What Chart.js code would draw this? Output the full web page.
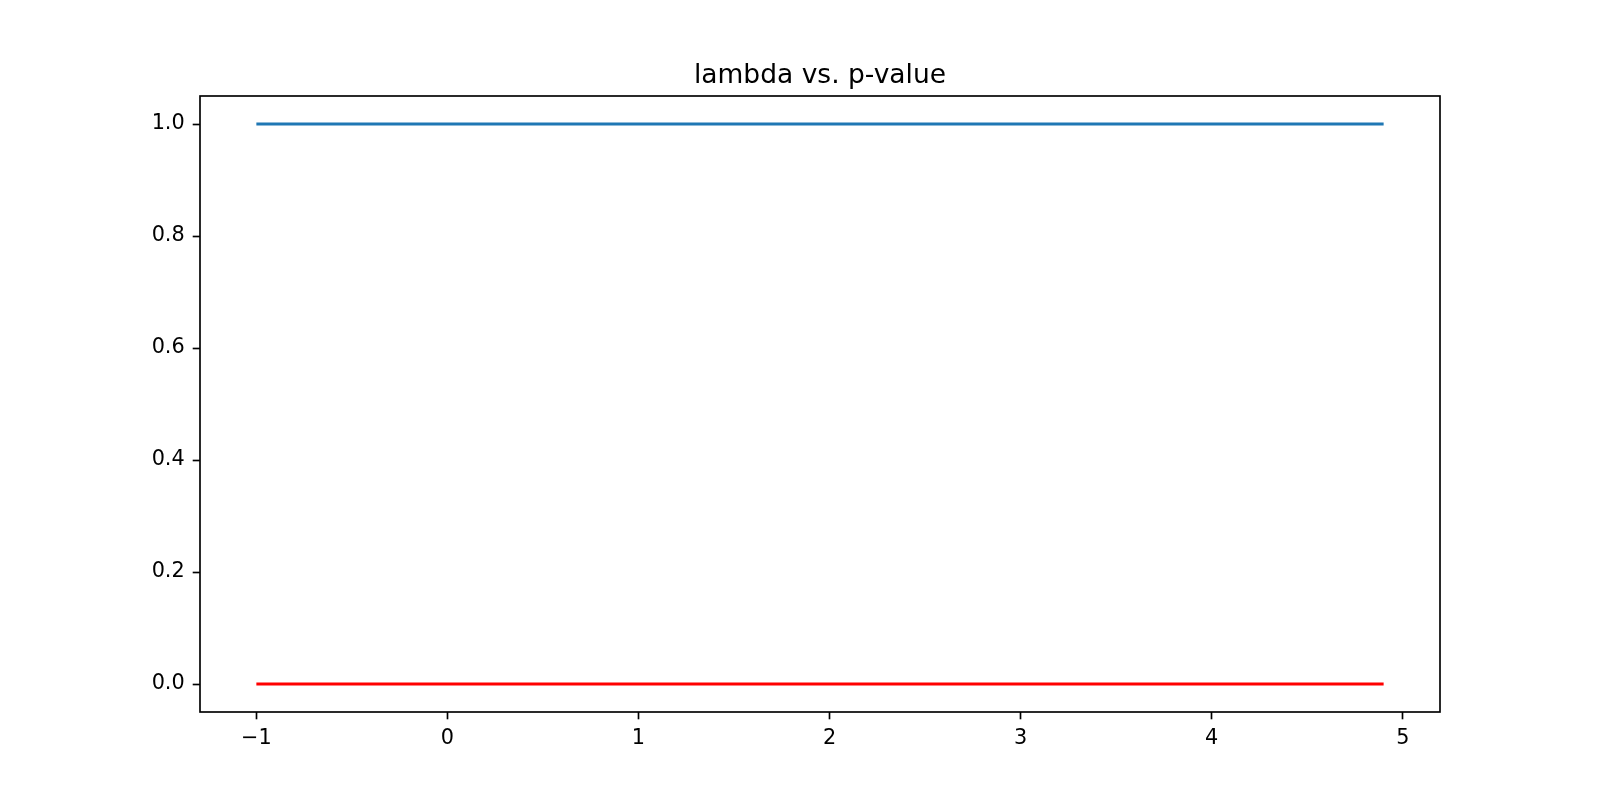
<!DOCTYPE html>
<html>
<head>
<meta charset="utf-8">
<title>lambda vs. p-value</title>
<script src="https://cdn.jsdelivr.net/npm/chart.js@4/dist/chart.umd.min.js"></script>
<style>
  html, body { margin: 0; padding: 0; background: #fff; }
  canvas { display: block; }
</style>
</head>
<body>
<canvas id="chart" width="1600" height="800"></canvas>
<script>
// lambda values along the x axis
const lambdas = [
  -1.0, -0.9, -0.8, -0.7, -0.6, -0.5, -0.4, -0.3, -0.2, -0.1,
  0.0, 0.1, 0.2, 0.3, 0.4, 0.5, 0.6, 0.7, 0.8, 0.9,
  1.0, 1.1, 1.2, 1.3, 1.4, 1.5, 1.6, 1.7, 1.8, 1.9,
  2.0, 2.1, 2.2, 2.3, 2.4, 2.5, 2.6, 2.7, 2.8, 2.9,
  3.0, 3.1, 3.2, 3.3, 3.4, 3.5, 3.6, 3.7, 3.8, 3.9,
  4.0, 4.1, 4.2, 4.3, 4.4, 4.5, 4.6, 4.7, 4.8, 4.9,
]
// blue series (p-value) sits flat on 1.0
const pValues = [
  1, 1, 1, 1, 1, 1, 1, 1, 1, 1,
  1, 1, 1, 1, 1, 1, 1, 1, 1, 1,
  1, 1, 1, 1, 1, 1, 1, 1, 1, 1,
  1, 1, 1, 1, 1, 1, 1, 1, 1, 1,
  1, 1, 1, 1, 1, 1, 1, 1, 1, 1,
  1, 1, 1, 1, 1, 1, 1, 1, 1, 1,
]
// red series sits flat on 0.0
const lowValues = [
  0, 0, 0, 0, 0, 0, 0, 0, 0, 0,
  0, 0, 0, 0, 0, 0, 0, 0, 0, 0,
  0, 0, 0, 0, 0, 0, 0, 0, 0, 0,
  0, 0, 0, 0, 0, 0, 0, 0, 0, 0,
  0, 0, 0, 0, 0, 0, 0, 0, 0, 0,
  0, 0, 0, 0, 0, 0, 0, 0, 0, 0,
]
const xTicks = [-1, 0, 1, 2, 3, 4, 5]
const yTicks = [0.0, 0.2, 0.4, 0.6, 0.8, 1.0]

const font = { family: 'DejaVu Sans', size: 20.8 }

const frame = {
  id: 'frame',
  afterDraw(chart) {
    const { ctx, chartArea: a } = chart
    ctx.save()
    ctx.strokeStyle = '#000'
    ctx.lineWidth = 1.67
    ctx.strokeRect(a.left, a.top, a.right - a.left, a.bottom - a.top)
    ctx.restore()
  },
}

const toPoints = values => values.map((y, i) => ({ x: lambdas[i], y }))

const axisGrid = {
  drawOnChartArea: false,
  drawTicks: true,
  tickLength: 7.3,
  tickColor: '#000',
  tickWidth: 1.67,
}

new Chart(document.querySelector('#chart'), {
  type: 'scatter',
  data: {
    datasets: [
      { data: toPoints(pValues), borderColor: '#1f77b4', borderWidth: 3.1, showLine: true, pointRadius: 0 },
      { data: toPoints(lowValues), borderColor: '#ff0000', borderWidth: 3.1, showLine: true, pointRadius: 0 },
    ],
  },
  options: {
    responsive: false,
    animation: false,
    // left 100 + y 100 = 200, right 60 + spacer 100 = 160, so the title centres on the axes
    layout: { padding: { left: 100, right: 60, top: 0, bottom: 28 } },
    plugins: {
      legend: { display: false },
      tooltip: { enabled: false },
      title: {
        display: true,
        text: 'lambda vs. p-value',
        color: '#000',
        font: { family: 'DejaVu Sans', size: 26.5, weight: 'normal' },
        padding: { top: 60, bottom: 4.2 },
      },
    },
    scales: {
      x: {
        type: 'linear',
        min: -1.295,
        max: 5.195,
        grid: axisGrid,
        border: { display: false },
        afterBuildTicks: scale => { scale.ticks = xTicks.map(value => ({ value })) },
        afterFit: scale => { scale.height = 60 },
        ticks: {
          color: '#000',
          font,
          padding: 7.3,
          maxRotation: 0,
          callback: v => v < 0 ? '\u2212' + Math.abs(v) : String(v),
        },
      },
      y: {
        type: 'linear',
        min: -0.05,
        max: 1.05,
        grid: axisGrid,
        border: { display: false },
        afterBuildTicks: scale => { scale.ticks = yTicks.map(value => ({ value })) },
        afterFit: scale => { scale.width = 100 },
        ticks: {
          color: '#000',
          font,
          padding: 8,
          callback: v => v.toFixed(1),
        },
      },
      spacer: {
        type: 'linear',
        position: 'right',
        min: 0,
        max: 1,
        grid: { display: false },
        border: { display: false },
        ticks: { display: false },
        afterFit: scale => { scale.width = 100 },
      },
    },
  },
  plugins: [frame],
})
</script>
</body>
</html>
